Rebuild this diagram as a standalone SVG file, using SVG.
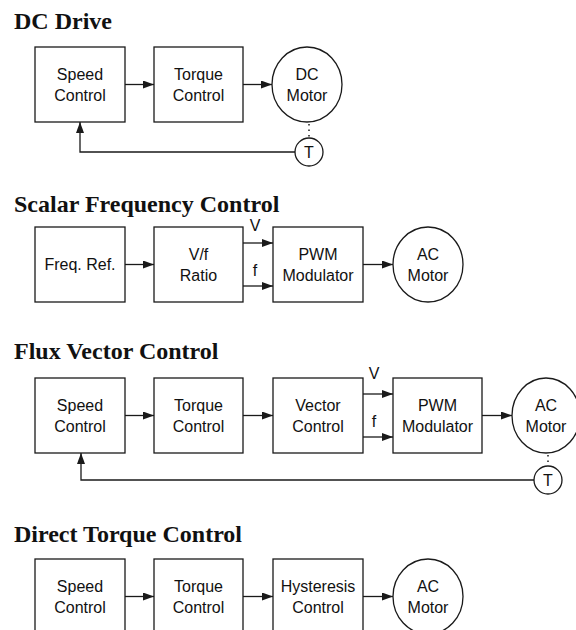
<svg xmlns="http://www.w3.org/2000/svg" width="576" height="630" viewBox="0 0 576 630">
<defs>
<style>
.bg{fill:#ffffff}
.box{fill:#ffffff;stroke:#1a1a1a;stroke-width:1.3}
.ln{fill:none;stroke:#1a1a1a;stroke-width:1.3}
.dot{fill:none;stroke:#1a1a1a;stroke-width:1.5;stroke-dasharray:1.5,4}
.t{font-family:"Liberation Sans",Arial,sans-serif;font-size:16px;fill:#111;text-anchor:middle}
.title{font-family:"Liberation Serif","Times New Roman",serif;font-size:24px;font-weight:bold;fill:#111}
</style>
<marker id="ah" viewBox="0 0 11 8" refX="11" refY="4" markerWidth="11" markerHeight="8" markerUnits="userSpaceOnUse" orient="auto">
<path d="M0,0 L11,4 L0,8 z" fill="#1a1a1a"/>
</marker>
</defs>
<rect class="bg" x="0" y="0" width="576" height="630"/>

<!-- Titles -->
<text class="title" x="14" y="29">DC Drive</text>
<text class="title" x="14" y="212">Scalar Frequency Control</text>
<text class="title" x="14" y="359">Flux Vector Control</text>
<text class="title" x="14" y="542">Direct Torque Control</text>

<!-- Connectors -->
<g id="connectors">
<!-- DC Drive -->
<line class="ln" x1="125" y1="84.5" x2="154" y2="84.5" marker-end="url(#ah)"/>
<line class="ln" x1="243" y1="84.5" x2="272" y2="84.5" marker-end="url(#ah)"/>
<line class="dot" x1="309" y1="124" x2="309" y2="138"/>
<polyline class="ln" points="295,152 80,152 80,122" marker-end="url(#ah)"/>
<!-- Scalar -->
<line class="ln" x1="125" y1="264.5" x2="154" y2="264.5" marker-end="url(#ah)"/>
<line class="ln" x1="243" y1="243" x2="273" y2="243" marker-end="url(#ah)"/>
<line class="ln" x1="243" y1="286" x2="273" y2="286" marker-end="url(#ah)"/>
<line class="ln" x1="363" y1="264.5" x2="393" y2="264.5" marker-end="url(#ah)"/>
<text class="t" x="255" y="231">V</text>
<text class="t" x="255" y="276">f</text>
<!-- Flux Vector -->
<line class="ln" x1="125" y1="415.5" x2="154" y2="415.5" marker-end="url(#ah)"/>
<line class="ln" x1="243" y1="415.5" x2="273" y2="415.5" marker-end="url(#ah)"/>
<line class="ln" x1="363" y1="394" x2="393" y2="394" marker-end="url(#ah)"/>
<line class="ln" x1="363" y1="437" x2="393" y2="437" marker-end="url(#ah)"/>
<line class="ln" x1="482" y1="415.5" x2="512" y2="415.5" marker-end="url(#ah)"/>
<text class="t" x="374" y="379">V</text>
<text class="t" x="374" y="427">f</text>
<line class="dot" x1="548" y1="455" x2="548" y2="466"/>
<polyline class="ln" points="534,480 81,480 81,453" marker-end="url(#ah)"/>
<!-- Direct Torque -->
<line class="ln" x1="125" y1="596.5" x2="154" y2="596.5" marker-end="url(#ah)"/>
<line class="ln" x1="243" y1="596.5" x2="273" y2="596.5" marker-end="url(#ah)"/>
<line class="ln" x1="363" y1="596.5" x2="393" y2="596.5" marker-end="url(#ah)"/>
</g>

<!-- DC Drive nodes -->
<g id="dc-speed"><rect class="box" x="35" y="47" width="90" height="75"/><text class="t" x="80" y="80">Speed</text><text class="t" x="80" y="101">Control</text></g>
<g id="dc-torque"><rect class="box" x="154" y="47" width="89" height="75"/><text class="t" x="198.5" y="80">Torque</text><text class="t" x="198.5" y="101">Control</text></g>
<g id="dc-motor"><ellipse class="box" cx="307" cy="84.5" rx="35" ry="37.5"/><text class="t" x="307" y="80">DC</text><text class="t" x="307" y="101">Motor</text></g>
<g id="dc-tacho"><circle class="box" cx="309" cy="152" r="14"/><text class="t" x="309" y="158">T</text></g>

<!-- Scalar nodes -->
<g id="sc-freq"><rect class="box" x="35" y="227" width="90" height="75"/><text class="t" x="80" y="270">Freq. Ref.</text></g>
<g id="sc-vf"><rect class="box" x="154" y="227" width="89" height="75"/><text class="t" x="198.5" y="260">V/f</text><text class="t" x="198.5" y="281">Ratio</text></g>
<g id="sc-pwm"><rect class="box" x="273" y="227" width="90" height="75"/><text class="t" x="318" y="260">PWM</text><text class="t" x="318" y="281">Modulator</text></g>
<g id="sc-motor"><ellipse class="box" cx="428" cy="264.5" rx="35" ry="37.5"/><text class="t" x="428" y="260">AC</text><text class="t" x="428" y="281">Motor</text></g>

<!-- Flux Vector nodes -->
<g id="fv-speed"><rect class="box" x="35" y="378" width="90" height="75"/><text class="t" x="80" y="411">Speed</text><text class="t" x="80" y="432">Control</text></g>
<g id="fv-torque"><rect class="box" x="154" y="378" width="89" height="75"/><text class="t" x="198.5" y="411">Torque</text><text class="t" x="198.5" y="432">Control</text></g>
<g id="fv-vector"><rect class="box" x="273" y="378" width="90" height="75"/><text class="t" x="318" y="411">Vector</text><text class="t" x="318" y="432">Control</text></g>
<g id="fv-pwm"><rect class="box" x="393" y="378" width="89" height="75"/><text class="t" x="437.5" y="411">PWM</text><text class="t" x="437.5" y="432">Modulator</text></g>
<g id="fv-motor"><ellipse class="box" cx="546" cy="415.5" rx="34" ry="37.5"/><text class="t" x="546" y="411">AC</text><text class="t" x="546" y="432">Motor</text></g>
<g id="fv-tacho"><circle class="box" cx="548" cy="480" r="14"/><text class="t" x="548" y="486">T</text></g>

<!-- Direct Torque nodes -->
<g id="dt-speed"><rect class="box" x="35" y="559" width="90" height="75"/><text class="t" x="80" y="592">Speed</text><text class="t" x="80" y="613">Control</text></g>
<g id="dt-torque"><rect class="box" x="154" y="559" width="89" height="75"/><text class="t" x="198.5" y="592">Torque</text><text class="t" x="198.5" y="613">Control</text></g>
<g id="dt-hyst"><rect class="box" x="273" y="559" width="90" height="75"/><text class="t" x="318" y="592">Hysteresis</text><text class="t" x="318" y="613">Control</text></g>
<g id="dt-motor"><ellipse class="box" cx="428" cy="596.5" rx="35" ry="37.5"/><text class="t" x="428" y="592">AC</text><text class="t" x="428" y="613">Motor</text></g>
</svg>
